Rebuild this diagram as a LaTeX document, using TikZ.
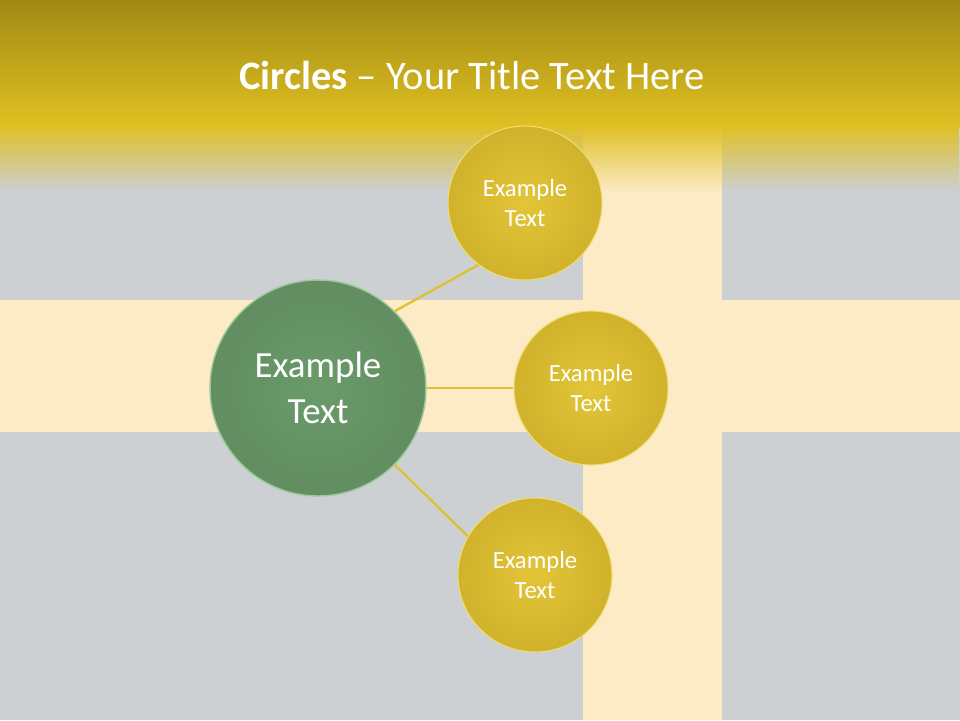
\documentclass[tikz,border=0pt]{standalone}
\usepackage{fontspec}
\setmainfont{Carlito}
\usetikzlibrary{fadings}
\definecolor{bg}{HTML}{CCD0D3}
\definecolor{cream}{HTML}{FCEBC5}
\definecolor{goldtop}{HTML}{A08A14}
\definecolor{goldmid}{HTML}{E0C022}
\definecolor{ball}{HTML}{E2C22F}
\definecolor{ballrim}{HTML}{F2DC70}
\definecolor{green}{HTML}{6A9A6A}
\definecolor{greenrim}{HTML}{9CC99A}
\definecolor{line}{HTML}{E0C030}
\tikzset{
  yball/.style={circle,minimum size=3.08cm,inner sep=0pt,align=center,text=white,font=\fontsize{14}{17}\selectfont,
    inner color=ball!95!white,outer color=ball!92!black,draw=ballrim,line width=0.6pt},
  gball/.style={circle,minimum size=4.32cm,inner sep=0pt,align=center,text=white,font=\fontsize{21}{26}\selectfont,
    inner color=green,outer color=green!92!black,draw=greenrim,line width=0.8pt},
  conn/.style={draw=line,line width=1.3pt}
}
\begin{document}
\begin{tikzpicture}[x=0.02cm,y=-0.02cm]
\useasboundingbox (0,0) rectangle (960,720);
\fill[bg] (0,0) rectangle (960,720);
\fill[cream] (0,300) rectangle (960,432);
\fill[cream] (583,125) rectangle (722,720);
\shade[top color=goldtop,bottom color=goldmid] (0,0) rectangle (960,126);
\fill[goldmid,path fading=south] (0,125) rectangle (960,192);
\node[text=white,font=\fontsize{23}{26}\selectfont] (title) at (472,75) {\textbf{Circles} – Your Title Text Here};
\node[gball] (c) at (318,388) {Example\\Text};
\node[yball] (a) at (525,203) {Example\\Text};
\node[yball] (b) at (591,388) {Example\\Text};
\node[yball] (d) at (535,575) {Example\\Text};
\path[conn] (c.45) -- (a.233);
\path[conn] (c.0) -- (b.180);
\path[conn] (c.-45) -- (d.150);
\end{tikzpicture}
\end{document}
